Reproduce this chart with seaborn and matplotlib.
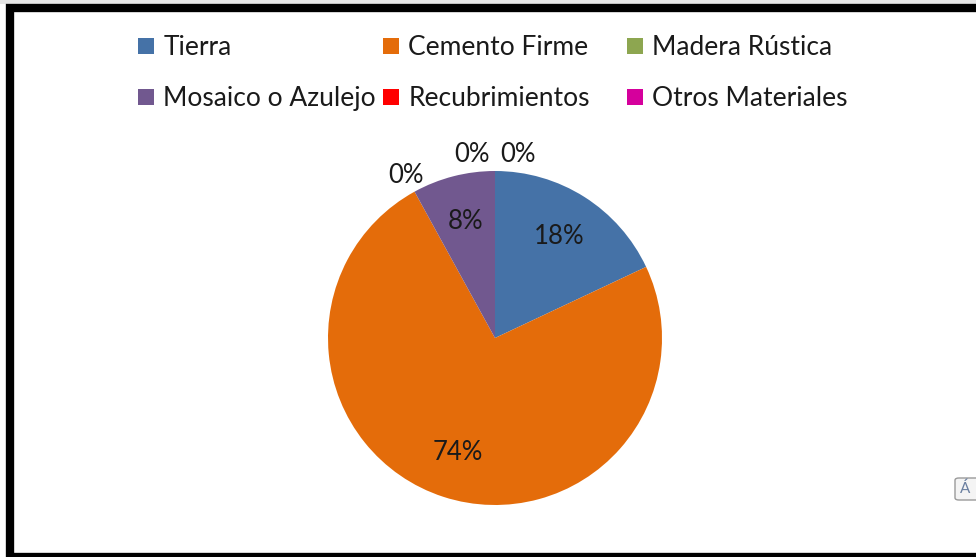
import matplotlib
matplotlib.use("Agg")
import matplotlib.pyplot as plt
import seaborn as sns
from matplotlib.lines import Line2D
from matplotlib.patches import Rectangle, FancyBboxPatch

# ---- data ----
categories = ["Tierra", "Cemento Firme", "Madera Rústica",
              "Mosaico o Azulejo", "Recubrimientos", "Otros Materiales"]
values = [18, 74, 0, 8, 0, 0]
colors = ["#4572A7", "#E46C0A", "#8DA650", "#71588F", "#FF0000", "#D5009C"]

sns.set_theme(style="white")
plt.rcParams["font.family"] = ["Lato", "DejaVu Sans"]

W, H = 976, 557
fig = plt.figure(figsize=(W / 100, H / 100), dpi=100)
fig.patch.set_facecolor("white")

# pie axes: centre (495, 338), radius 167 px
cx, cy, r = 495, 338, 167
ax = fig.add_axes([(cx - r) / W, (H - cy - r) / H, 2 * r / W, 2 * r / H])
wedges, texts, autotexts = ax.pie(
    values, colors=colors, startangle=90, counterclock=False,
    autopct="%1.0f%%", pctdistance=0.72, radius=1,
    wedgeprops=dict(linewidth=0),
    textprops=dict(fontsize=18.5, color="#1a1a1a"))
ax.set_xlim(-1, 1)
ax.set_ylim(-1, 1)
ax.set_aspect("equal")
ax.axis("off")

# zero slices: labels pushed outside, the ones sharing the top spread sideways
top_shift = [-0.14, 0.14]
k = 0
for v, t in zip(values, autotexts):
    t.set_clip_on(False)
    if v == 0:
        x, y = t.get_position()
        d = (x ** 2 + y ** 2) ** 0.5
        x, y = x / d * 1.11, y / d * 1.11
        if abs(x) < 1e-6:
            x += top_shift[k]
            y -= 0.01
            k += 1
        t.set_position((x, y))

# legend: three columns of two rows
cols = [141, 386, 630]
for i, x0 in enumerate(cols):
    idx = [i, i + 3]
    handles = [Line2D([], [], marker="s", linestyle="", markersize=11,
                      markerfacecolor=colors[j], markeredgewidth=0) for j in idx]
    fig.legend(handles, [categories[j] for j in idx],
               loc="upper left", bbox_to_anchor=((x0 - 4) / W, 1 - 35 / H),
               frameon=False, fontsize=19, handlelength=0.7, handletextpad=0.3,
               borderpad=0, borderaxespad=0, labelspacing=1.0,
               labelcolor="#1a1a1a")

# outer black frame (right side runs off the picture)
fig.patches.append(Rectangle((10 / W, 0), 1.1, (H - 8) / H,
                             transform=fig.transFigure, fill=False,
                             edgecolor="black", linewidth=6, zorder=5))
fig.patches.append(Rectangle((0, 1 - 4 / H), 1, 4 / H, transform=fig.transFigure,
                             facecolor="#e6e6e6", edgecolor="none", zorder=4))

# small screenshot button at bottom right
fig.patches.append(FancyBboxPatch((955 / W, (H - 500) / H), 30 / W, 22 / H,
                                  boxstyle="round,pad=0,rounding_size=0.004",
                                  transform=fig.transFigure, facecolor="#f4f4f4",
                                  edgecolor="#9a9a9a", linewidth=1))
fig.text(960 / W, (H - 489) / H, "Á", fontsize=11, color="#6a7fa0",
         va="center", ha="left")

fig.savefig("out.png", dpi=100)
